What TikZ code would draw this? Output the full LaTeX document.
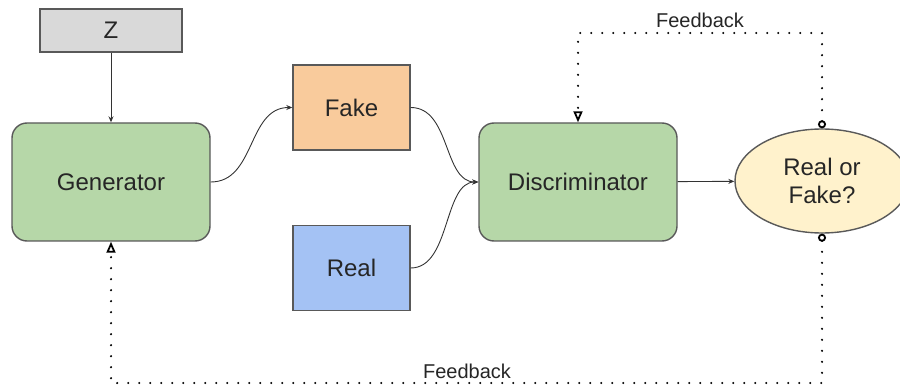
\documentclass[tikz,border=0pt]{standalone}
\usepackage{fontspec}
\setmainfont{Liberation Sans}
\usetikzlibrary{shapes.geometric,arrows.meta}
\definecolor{edge}{HTML}{595959}
\definecolor{gengreen}{HTML}{B6D7A8}
\definecolor{fakeorange}{HTML}{F9CB9C}
\definecolor{realblue}{HTML}{A4C2F4}
\definecolor{zgray}{HTML}{D9D9D9}
\definecolor{ansyellow}{HTML}{FFF2CC}
\tikzset{
  box/.style={draw=edge, line width=1.4pt, inner sep=0pt, font=\fontsize{24}{28}\selectfont, text=black!85},
  netbox/.style={box, fill=gengreen, rounded corners=15pt, minimum width=198pt, minimum height=118pt},
  databox/.style={box, minimum width=117pt, minimum height=85pt},
  link/.style={draw=black!80, line width=0.9pt, -{Stealth[length=6pt,width=5pt]}},
  feedback/.style={draw=black, line width=2.4pt, line cap=round, dash pattern=on 0pt off 11pt,
    {Circle[open,length=8pt,width=8pt,line width=1.8pt]}-{Triangle[open,length=11pt,width=9pt,line width=1.8pt]}},
  fblabel/.style={font=\fontsize{20}{24}\selectfont, text=black!85}
}
\begin{document}
\begin{tikzpicture}[x=1pt,y=-1pt]
  \useasboundingbox (0,0) rectangle (900,390);
  \clip (0,0) rectangle (900,390);
  \node[box, fill=zgray, minimum width=142pt, minimum height=43pt] (z) at (111,30.5) {Z};
  \node[netbox] (gen) at (111,182) {Generator};
  \node[databox, fill=fakeorange] (fake) at (351.5,107.5) {Fake};
  \node[databox, fill=realblue] (real) at (351.5,268) {Real};
  \node[netbox] (disc) at (578,182) {Discriminator};
  \node[box, ellipse, fill=ansyellow, minimum width=174pt, minimum height=104pt, align=center] (ans) at (822,181) {Real or\\Fake?};

  \draw[link] (z) -- (gen);
  \draw[link] (gen.east) .. controls +(45,0) and +(-45,0) .. (fake.west);
  \draw[link] (fake.east) .. controls +(40,0) and +(-35,0) .. (disc.west);
  \draw[link] (real.east) .. controls +(40,0) and +(-35,0) .. (disc.west);
  \draw[link] (disc) -- (ans);

  \coordinate (tr) at (822,33);
  \coordinate (tl) at (578,33);
  \coordinate (br) at (822,383);
  \coordinate (bl) at (111,383);
  \draw[feedback] (ans.north) -- (tr) -- (tl) -- (disc.north);
  \draw[feedback] (ans.south) -- (br) -- (bl) -- (gen.south);
  \node[fblabel] (fbtop) at (700,20) {Feedback};
  \node[fblabel] (fbbot) at (467,371) {Feedback};
\end{tikzpicture}
\end{document}
